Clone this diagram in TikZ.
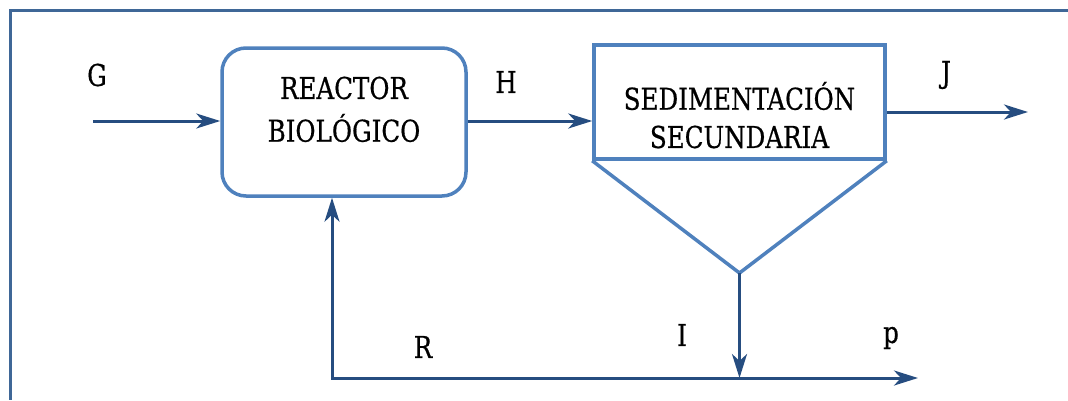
\documentclass[tikz,border=0pt]{standalone}
\usepackage{fontspec}
\setmainfont{DejaVu Serif Condensed}
\newfontfamily\labelfont{DejaVu Serif Condensed}[FakeBold=0.6]
\usetikzlibrary{arrows.meta}
\definecolor{framec}{HTML}{3F6797}
\definecolor{boxc}{HTML}{4F81BD}
\definecolor{flowc}{HTML}{264D80}
\tikzset{
  unitbox/.style={draw=boxc, line width=3.5pt, fill=white},
  flowtip/.tip={Stealth[length=24pt,width=15pt,inset=7pt]},
  flow/.style={draw=flowc, line width=3pt, -flowtip},
  lbl/.style={font=\labelfont\fontsize{27.3}{30}\selectfont, inner sep=0pt},
}
\newcommand{\tall}[1]{\scalebox{1}[1.1]{#1}}

\begin{document}
\begin{tikzpicture}[x=1pt,y=-1pt]
  \useasboundingbox (0,0) rectangle (1068,400);
  % outer frame (open to the right and bottom)
  \draw[framec, line width=3pt] (1068,10) -- (10,10) -- (10,400);

  % biological reactor
  \node[unitbox, rounded corners=24pt, minimum width=244pt, minimum height=148pt] (reactor) at (344,122) {};
  \node[lbl] (reactor1) at (344,88) {\tall{REACTOR}};
  \node[lbl] (reactor2) at (344,128) {\tall{BIOLÓGICO}};

  % secondary settler: box with hopper below
  \node[unitbox, minimum width=291pt, minimum height=114pt] (sed) at (739.5,102) {};
  \coordinate (apex) at (739.5,273);
  \draw[unitbox, fill=none, line join=round] (sed.south west) -- (apex) -- (sed.south east);
  \node[lbl] (sed1) at (739.5,96) {\tall{SEDIMENTACIÓN}};
  \node[lbl] (sed2) at (739.5,137) {\tall{SECUNDARIA}};

  % free ends of the flows
  \coordinate (gin) at (93,121);
  \coordinate (jout) at (1028,112);
  \coordinate (ret) at (332,378);
  \coordinate (pout) at (918,378);

  % flows
  \draw[flow] (gin) -- (gin -| reactor.west);
  \draw[flow] (reactor.east |- gin) -- (gin -| sed.west);
  \draw[flow] (jout -| sed.east) -- (jout);
  \draw[flow] (apex) -- (apex |- ret);
  \draw[flow, flowtip-flowtip] (ret |- reactor.south) -- (ret) -- (pout);

  % stream labels
  \node[lbl] (G) at (97,75) {\tall{G}};
  \node[lbl] (H) at (506,82) {\tall{H}};
  \node[lbl] (J) at (946,75) {\tall{J}};
  \node[lbl] (R) at (423,347) {\tall{R}};
  \node[lbl] (I) at (682,335) {\tall{I}};
  \node[lbl] (p) at (891,338) {\tall{p}};
\end{tikzpicture}
\end{document}
